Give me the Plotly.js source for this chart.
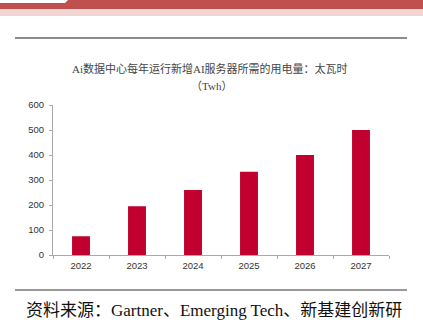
<!DOCTYPE html>
<html><head><meta charset="utf-8">
<script src="https://cdn.plot.ly/plotly-3.0.1.min.js"></script>
<style>html,body{margin:0;padding:0;background:#fff;}#c{width:423px;height:332px;}</style>
</head><body><div id="c"></div>
<script>
const years = ['2022','2023','2024','2025','2026','2027'];
const power = [75, 195, 260, 333, 400, 500];
const titleLine1 = 'Ai数据中心每年运行新增AI服务器所需的用电量：太瓦时';
const titleLine2 = '（Twh）';
const sourceText = '资料来源：Gartner、Emerging Tech、新基建创新研';

const L = 53, R = 389, T = 105, B = 255;
const px = x => (x - L) / (R - L);
const py = y => (B - y) / (B - T);

const trace = {
  type: 'bar', x: years, y: power,
  marker: {color: '#C0002F'}, width: 0.32, hoverinfo: 'none'
};
const layout = {
  width: 423, height: 332,
  margin: {l: L, r: 423 - R, t: T, b: 332 - B},
  paper_bgcolor: '#fff', plot_bgcolor: '#fff',
  showlegend: false,
  xaxis: {type: 'category', showgrid: false, showline: true, linecolor: '#aaa', linewidth: 1,
    ticks: 'outside', tickson: 'boundaries', ticklen: 3, tickcolor: '#aaa',
    ticklabelstandoff: 2,
    tickfont: {family: 'Liberation Sans, Arial', size: 9.5, color: '#333'}},
  yaxis: {range: [0, 600], dtick: 100, showgrid: false, zeroline: false, showline: true,
    linecolor: '#aaa', linewidth: 1, ticks: 'outside', ticklen: 3, tickcolor: '#aaa',
    ticklabelstandoff: 3,
    tickfont: {family: 'Liberation Sans, Arial', size: 9.5, color: '#333'}},
  annotations: [
    {text: titleLine1, xref: 'paper', yref: 'paper', x: px(210), y: py(68), showarrow: false,
      xanchor: 'center', yanchor: 'middle', font: {family: 'Liberation Serif, Noto Sans CJK SC', size: 11, color: '#444'}},
    {text: titleLine2, xref: 'paper', yref: 'paper', x: px(211), y: py(86), showarrow: false,
      xanchor: 'center', yanchor: 'middle', font: {family: 'Liberation Serif, Noto Sans CJK SC', size: 11, color: '#444'}},
    {text: sourceText, xref: 'paper', yref: 'paper', x: px(24), y: py(310), showarrow: false,
      xanchor: 'left', yanchor: 'middle', font: {family: 'Liberation Serif, Noto Sans CJK SC', size: 17, color: '#111'}}
  ],
  shapes: [
    {type: 'path', xref: 'paper', yref: 'paper', layer: 'above', line: {width: 0}, fillcolor: '#C0504D',
      path: `M ${px(0)},${py(3)} L ${px(65)},${py(3)} L ${px(68)},${py(0)} L ${px(423)},${py(0)} L ${px(423)},${py(9)} L ${px(0)},${py(9)} Z`},
    {type: 'rect', xref: 'paper', yref: 'paper', x0: px(0), x1: px(423), y0: py(9), y1: py(16),
      line: {width: 0}, fillcolor: '#F3D5D4'},
    {type: 'line', xref: 'paper', yref: 'paper', x0: px(15), x1: px(407), y0: py(38), y1: py(38),
      line: {color: '#666', width: 1.5}},
    {type: 'line', xref: 'paper', yref: 'paper', x0: px(15), x1: px(407), y0: py(290), y1: py(290),
      line: {color: '#333', width: 1}}
  ]
};
Plotly.newPlot('c', [trace], layout, {staticPlot: true, displayModeBar: false});
</script></body></html>
